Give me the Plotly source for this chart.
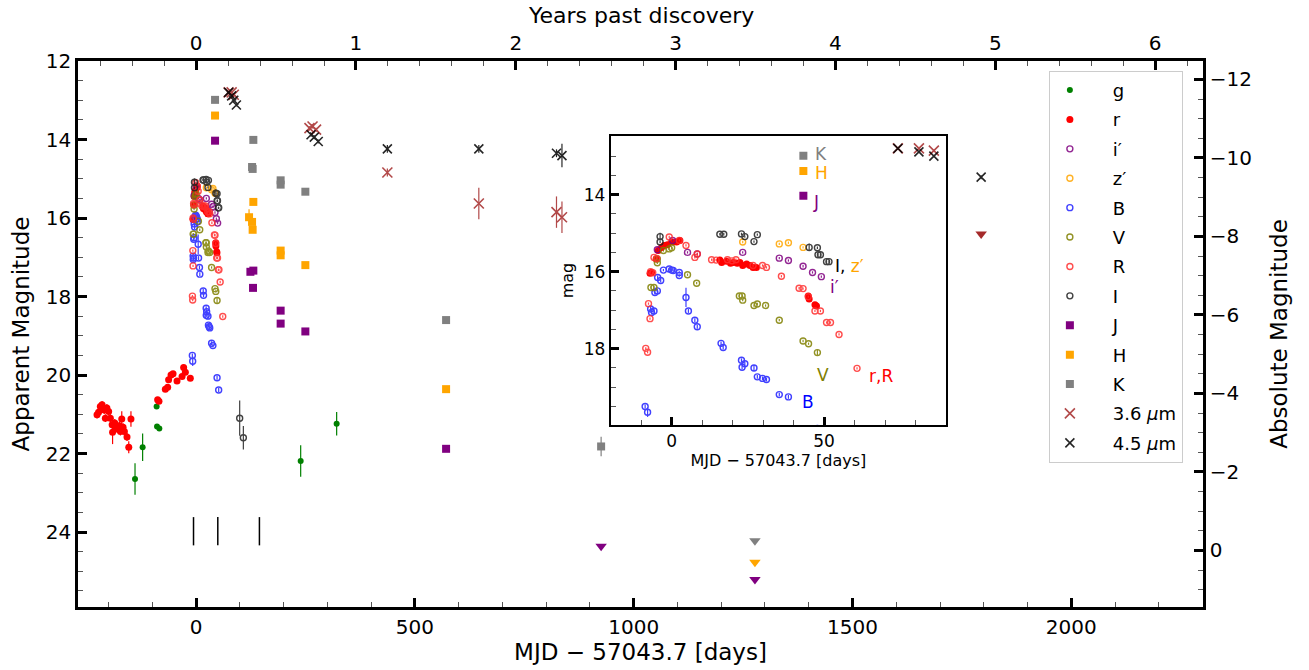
import plotly.graph_objects as go

FONT = "DejaVu Sans"
DM = 24.47

# ---------------- data (days since MJD 57043.7, apparent mag, error) ----------------
g_day = [-139.7, -122.3, -90.3, -89.4, -84.1, 238.9, 321.1]
g_mag = [22.65, 21.84, 20.80, 21.31, 21.36, 22.19, 21.24]
g_err = [0.40, 0.35, 0.05, 0.05, 0.05, 0.40, 0.30]

r_day = [-226.5, -223, -219, -215, -210, -207.5, -204, -200, -196, -192, -191, -186, -183, -179,
         -175.5, -173, -170, -167, -164, -158, -154, -149, -88, -85, -70.4, -65.1, -62.9, -57.4,
         -52.8, -43.7, -32.2, -28.6, -24.7, -13.3,
         -7.1, -6.6, -5.1, -4.4, -3.3, -2.5, -1.4, 0.0, 1.6, 2.7, 15.8, 16.4, 18.0, 19.3, 20.2,
         21.5, 22.4, 23.3, 24.6, 25.7, 26.7, 27.8, 44.8, 45.1, 47.0, 47.5]
r_mag = [21.01, 20.95, 20.80, 20.76, 20.89, 21.10, 20.84, 20.93, 21.10, 21.27, 21.46, 21.22, 21.33,
         21.38, 21.29, 21.44, 21.12, 21.33, 21.44, 21.58, 21.84, 21.12, 20.63, 20.67, 20.36, 20.31,
         20.12, 20.00, 19.97, 20.15, 20.04, 19.81, 19.93, 20.08,
         16.04, 16.02, 15.67, 15.45, 15.37, 15.32, 15.30, 15.23, 15.23, 15.19, 15.70, 15.76, 15.73,
         15.78, 15.76, 15.78, 15.76, 15.84, 15.80, 15.84, 15.89, 15.89, 16.63, 16.71, 16.86, 16.89]
r_err = [0.10, 0.10, 0.10, 0.10, 0.10, 0.10, 0.10, 0.10, 0.10, 0.10, 0.30, 0.10, 0.10, 0.10,
         0.10, 0.10, 0.20, 0.10, 0.10, 0.10, 0.15, 0.20, 0.05, 0.05, 0.05, 0.05, 0.05, 0.05,
         0.05, 0.05, 0.05, 0.05, 0.05, 0.05] + [0.03] * 26

ip_day = [-4.7, 0.3, 5.2, 8.4, 23.3, 35.3, 38.3, 43.1, 46.2, 49.1]
ip_mag = [15.43, 15.19, 15.50, 15.54, 15.50, 15.65, 15.71, 15.86, 16.02, 16.13]
ip_err = [0.03] * 10

zp_day = [23.3, 35.3, 38.3, 43.1]
zp_mag = [15.23, 15.28, 15.25, 15.37]
zp_err = [0.03] * 4

B_day = [-8.7, -7.9, -6.9, -6.6, -5.8, -5.5, -4.7, -4.6, -3.6, -2.7, -0.8, 0.0, 0.5, 2.5, 2.5,
         4.7, 5.5, 7.6, 8.4, 16.2, 16.9, 22.9, 23.1, 24.0, 27.0, 28.1, 29.8, 31.1, 35.3, 38.3,
         47.8, 51.5]
B_mag = [19.50, 19.65, 16.97, 17.06, 17.02, 16.54, 16.50, 16.15, 16.23, 15.96, 15.93, 15.96,
         15.97, 16.02, 16.10, 16.67, 17.02, 17.26, 17.43, 17.86, 17.97, 18.30, 18.48, 18.39,
         18.50, 18.73, 18.77, 18.80, 19.19, 19.25, 20.07, 20.38]
B_err = [0.05, 0.12, 0.05, 0.05, 0.05, 0.05, 0.05, 0.05, 0.05, 0.03, 0.03, 0.03, 0.03, 0.03,
         0.03, 0.25, 0.05, 0.05, 0.05, 0.05, 0.05, 0.05, 0.05, 0.05, 0.08, 0.05, 0.05, 0.05,
         0.05, 0.05, 0.05, 0.05]

V_day = [-6.8, -5.8, -4.7, -4.7, -2.7, -0.8, 0.0, 5.2, 8.2, 22.2, 23.1, 23.3, 27.0, 28.1, 30.8,
         35.3, 43.1, 44.9, 47.8]
V_mag = [16.41, 16.41, 15.67, 15.77, 15.45, 15.41, 15.38, 16.08, 16.30, 16.63, 16.63, 16.74,
         16.88, 16.84, 16.88, 17.26, 17.80, 17.87, 18.10]
V_err = [0.03] * 18 + [0.08]

R_day = [-8.5, -7.9, -7.6, -7.1, -6.9, -6.2, -5.8, -4.9, -0.8, 2.5, 4.7, 7.6, 8.4, 13.1, 14.6,
         18.3, 19.8, 21.1, 26.7, 29.8, 31.1, 36.0, 41.8, 43.1, 44.8, 47.0, 48.8, 50.8, 52.1,
         54.9, 60.8]
R_mag = [17.99, 18.09, 16.83, 17.22, 16.00, 16.03, 15.63, 15.66, 15.10, 15.19, 15.32, 15.63,
         15.54, 15.69, 15.70, 15.69, 15.72, 15.69, 15.84, 15.84, 15.89, 16.12, 16.43, 16.44,
         16.65, 17.02, 17.02, 17.32, 17.32, 17.63, 18.51]
R_err = [0.03] * 31

I_day = [-3.8, -3.8, 15.8, 17.1, 22.9, 24.0, 27.0, 28.1, 45.1, 47.8, 48.0, 48.8, 50.8, 51.6,
         99.5, 107.9]
I_mag = [15.09, 15.23, 15.03, 15.03, 15.02, 15.09, 15.22, 15.04, 15.37, 15.38, 15.56, 15.56,
         15.74, 15.74, 21.10, 21.60]
I_err = [0.10, 0.03, 0.03, 0.03, 0.03, 0.03, 0.03, 0.03, 0.10, 0.03, 0.03, 0.03, 0.03, 0.03,
         0.45, 0.30]

J_day = [43.2, 124.0, 130.7, 130.0, 193.1, 193.1, 249.6, 571.2]
J_mag = [14.03, 17.37, 17.34, 17.78, 18.36, 18.69, 18.89, 21.88]
J_err = [0.03, 0.05, 0.05, 0.05, 0.05, 0.08, 0.05, 0.05]

H_day = [43.2, 130.7, 120.9, 127.8, 129.1, 193.1, 193.1, 249.6, 571.2]
H_mag = [13.39, 15.59, 15.98, 16.10, 16.30, 16.83, 16.95, 17.20, 20.36]
H_err = [0.03, 0.05, 0.20, 0.05, 0.05, 0.08, 0.05, 0.05, 0.05]

K_day = [43.2, 130.7, 127.8, 129.1, 193.1, 193.1, 249.6, 571.2, 925.5]
K_mag = [12.99, 14.01, 14.70, 14.75, 15.04, 15.15, 15.33, 18.60, 21.82]
K_err = [0.03, 0.05, 0.05, 0.05, 0.05, 0.05, 0.05, 0.05, 0.25]

ch1_day = [74.2, 81.1, 86.0, 259.0, 266.0, 274.0, 437.0, 646.0, 823.5, 836.0]
ch1_mag = [12.80, 12.80, 12.86, 13.71, 13.67, 13.75, 14.84, 15.63, 15.85, 15.98]
ch1_err = [0.03, 0.03, 0.03, 0.05, 0.05, 0.05, 0.10, 0.40, 0.40, 0.40]

ch2_day = [74.2, 81.1, 86.0, 92.0, 262.6, 270.0, 279.0, 437.0, 646.0, 823.5, 836.0, 1794.0]
ch2_mag = [12.80, 12.89, 13.00, 13.12, 13.88, 13.94, 14.05, 14.24, 14.24, 14.35, 14.41, 14.96]
ch2_err = [0.03, 0.03, 0.03, 0.03, 0.05, 0.05, 0.05, 0.10, 0.10, 0.10, 0.30, 0.05]

# upper limits
ulJ_day, ulJ_mag = [925.5, 1277.0], [24.36, 25.21]
ulH_day, ulH_mag = [1277.0], [24.77]
ulK_day, ulK_mag = [1277.0], [24.22]
ul1_day, ul1_mag = [1794.0], [16.41]

# spectroscopic epochs
spec_epochs = [-6.0, 49.5, 144.6]

# ---------------- styles ----------------
bands = [
    # name, day, mag, err, color, symbol, size, filled
    ("g", g_day, g_mag, g_err, "#008000", "circle", 6, True),
    ("r", r_day, r_mag, r_err, "#ff0000", "circle", 7, True),
    ("i′", ip_day, ip_mag, ip_err, "#800080", "circle-open", 6, False),
    ("z′", zp_day, zp_mag, zp_err, "#ffa500", "circle-open", 6, False),
    ("B", B_day, B_mag, B_err, "#2020ff", "circle-open", 6, False),
    ("V", V_day, V_mag, V_err, "#808000", "circle-open", 6, False),
    ("R", R_day, R_mag, R_err, "#ff3030", "circle-open", 6, False),
    ("I", I_day, I_mag, I_err, "#202020", "circle-open", 6, False),
    ("J", J_day, J_mag, J_err, "#800080", "square", 8, True),
    ("H", H_day, H_mag, H_err, "#ffa500", "square", 8, True),
    ("K", K_day, K_mag, K_err, "#808080", "square", 8, True),
    ("3.6 <i>μ</i>m", ch1_day, ch1_mag, ch1_err, "#a52a2a", "x-thin-open", 10, False),
    ("4.5 <i>μ</i>m", ch2_day, ch2_mag, ch2_err, "#000000", "x-thin-open", 9, False),
]

fig = go.Figure()
PAD = "\u00a0" * 4

for i, (name, d, m, e, col, sym, sz, filled) in enumerate(bands):
    mk = dict(color=col, symbol=sym, size=sz, line=dict(color=col, width=1.4 if not filled else 0))
    if sym.startswith("x"):
        mk["line"]["width"] = 1.6
    for ax in ("main", "inset"):
        fig.add_trace(go.Scatter(
            x=d, y=m, mode="markers", name=PAD + name, marker=mk,
            error_y=dict(type="data", array=e, visible=True, color=col, thickness=1.2, width=0),
            opacity=0.85 if not filled else 1.0,
            legendgroup=name, showlegend=(ax == "main"),
            xaxis="x" if ax == "main" else "x3",
            yaxis="y" if ax == "main" else "y3",
            hoverinfo="skip",
        ))

for d, m, col in [(ulJ_day, ulJ_mag, "#800080"), (ulH_day, ulH_mag, "#ffa500"),
                  (ulK_day, ulK_mag, "#808080"), (ul1_day, ul1_mag, "#a52a2a")]:
    fig.add_trace(go.Scatter(x=d, y=m, mode="markers", showlegend=False, hoverinfo="skip",
                             marker=dict(symbol="triangle-down", size=10, color=col)))

sx, sy = [], []
for e in spec_epochs:
    sx += [e, e, None]
    sy += [23.62, 24.34, None]
fig.add_trace(go.Scatter(x=sx, y=sy, mode="lines", line=dict(color="black", width=1.5),
                         showlegend=False, hoverinfo="skip"))

# dummy trace to activate top / right axes
fig.add_trace(go.Scatter(x=[None], y=[None], xaxis="x2", yaxis="y2", showlegend=False,
                         hoverinfo="skip"))

# ---------------- axes ----------------
XR = [-270, 2301]
YR = [25.91, 12.0]
tickfont = dict(family=FONT, size=20, color="black")
major = dict(ticks="inside", ticklen=9, tickwidth=2.5, tickcolor="black", automargin=False,
             showline=True, linewidth=2.5, linecolor="black", showgrid=False, zeroline=False,
             tickfont=tickfont)
minor_style = dict(ticks="inside", ticklen=5, tickwidth=1.3, tickcolor="#555")

fig.update_layout(
    width=1309, height=670,
    margin=dict(l=78, r=106, t=61, b=63, autoexpand=False),
    paper_bgcolor="white", plot_bgcolor="white",
    font=dict(family=FONT, color="black"),
    xaxis=dict(range=XR, dtick=500, tick0=0, domain=[0, 1],
               minor=dict(dtick=100, **minor_style),
               title=dict(text="MJD − 57043.7 [days]", font=dict(family=FONT, size=23), standoff=2),
               **major),
    yaxis=dict(range=YR, dtick=2, tick0=0, domain=[0, 1],
               minor=dict(dtick=0.5, **minor_style),
               title=dict(text="Apparent Magnitude", font=dict(family=FONT, size=23), standoff=10),
               **major),
    xaxis2=dict(range=[XR[0] / 365.25, XR[1] / 365.25], dtick=1, tick0=0, overlaying="x",
                side="top", anchor="y",
                minor=dict(dtick=0.2, **minor_style),
                **major),
    yaxis2=dict(range=[YR[0] - DM, YR[1] - DM], dtick=2, tick0=0, overlaying="y", side="right",
                anchor="x",
                minor=dict(dtick=0.5, **minor_style),
                title=dict(text="Absolute Magnitude", font=dict(family=FONT, size=23), standoff=20),
                **major),
    xaxis3=dict(domain=[0.4735, 0.7716], anchor="y3", range=[-20, 90], dtick=50, tick0=0,
                ticks="inside", ticklen=8, tickwidth=2.5, tickcolor="black", automargin=False,
                showline=True, mirror=True, linewidth=2, linecolor="black", showgrid=False,
                zeroline=False, tickfont=dict(family=FONT, size=17),
                minor=dict(dtick=10, ticks="inside", ticklen=5, tickwidth=1.2, tickcolor="#555"),
                title=dict(text="MJD − 57043.7 [days]", font=dict(family=FONT, size=16), standoff=4)),
    yaxis3=dict(domain=[0.3333, 0.8626], anchor="x3", range=[19.98, 12.48],
                tickvals=[14, 16, 18],
                ticks="inside", ticklen=8, tickwidth=2.5, tickcolor="black", automargin=False,
                showline=True, mirror=True, linewidth=2, linecolor="black", showgrid=False,
                zeroline=False, tickfont=dict(family=FONT, size=17),
                minor=dict(dtick=0.5, tick0=0, ticks="inside", ticklen=5, tickwidth=1.2, tickcolor="#555"),
                title=dict(text="mag", font=dict(family=FONT, size=16), standoff=6)),
    legend=dict(x=0.863, y=0.982, xanchor="left", yanchor="top",
                bgcolor="white", bordercolor="#cccccc", borderwidth=1,
                font=dict(family=FONT, size=18), tracegroupgap=3),
    showlegend=True,
)

# top-axis title as a paper annotation, kept clear of the tick labels
fig.add_annotation(text="Years past discovery", xref="paper", yref="paper", x=0.5, y=1.0825,
                   xanchor="center", yanchor="middle", showarrow=False,
                   font=dict(family=FONT, size=22, color="black"))

# ---------------- inset labels ----------------
labels = [
    ("K", 49.1, 12.95, "#808080", 17),
    ("H", 49.1, 13.45, "#ffa500", 17),
    ("J", 47.3, 14.19, "#800080", 17),
    ("<span style='color:black'>I,</span><span style='color:#ffa500'> z′</span>", 58.2, 15.86, "black", 17),
    ("i′", 53.5, 16.41, "#800080", 17),
    ("V", 49.7, 18.67, "#808000", 17),
    ("r,R", 68.8, 18.71, "#ff0000", 17),
    ("B", 44.8, 19.38, "#0000ff", 17),
]
for t, x, y, c, s in labels:
    fig.add_annotation(text=t, x=x, y=y, xref="x3", yref="y3", showarrow=False,
                       font=dict(family=FONT, size=s, color=c))

# remove the browser's default 8px body margin so the figure fills the window exactly
fig.write_html("out.html", config={"displayModeBar": False},
               post_script="document.body.style.margin='0';")
